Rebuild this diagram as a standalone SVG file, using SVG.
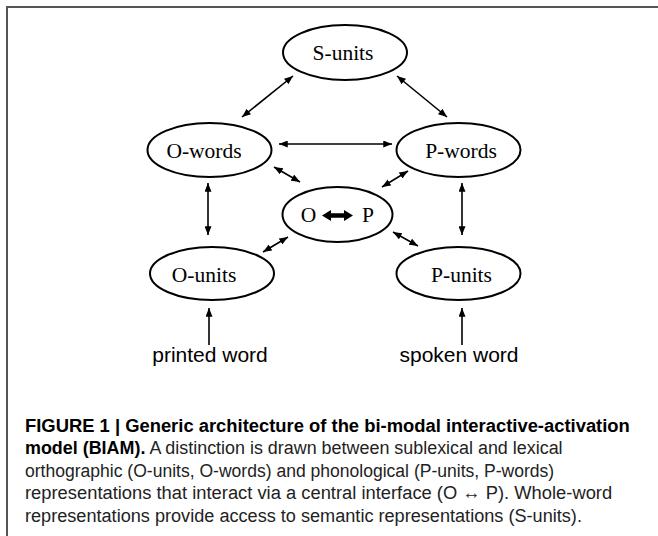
<svg xmlns="http://www.w3.org/2000/svg" width="658" height="536" viewBox="0 0 658 536">
<defs>
<style>
.node ellipse{fill:#fff;stroke:#000;stroke-width:2}
.lbl{font-family:"Liberation Serif","Times New Roman",serif;font-size:21.5px;fill:#000;text-anchor:middle}
.in{font-family:"Liberation Sans",Arial,sans-serif;font-size:21px;fill:#000;text-anchor:middle}
.conn line{stroke:#000;stroke-width:1.6;fill:none}
.cap{font-family:"Liberation Sans",Arial,sans-serif;font-size:19px;fill:#222}
.b{font-weight:bold;fill:#000}
</style>
<marker id="ah" viewBox="0 0 10 8" refX="10" refY="4" markerWidth="9" markerHeight="7" markerUnits="userSpaceOnUse" orient="auto-start-reverse">
<path d="M0,0 L10,4 L0,8 Z" fill="#000"/>
</marker>
</defs>
<rect width="658" height="536" fill="#fff"/>
<path d="M7,536 V7 H658" fill="none" stroke="#555" stroke-width="2"/>

<g class="conn">
<line x1="293" y1="76" x2="242" y2="117" marker-start="url(#ah)" marker-end="url(#ah)"/>
<line x1="397" y1="76" x2="447" y2="117" marker-start="url(#ah)" marker-end="url(#ah)"/>
<line x1="279" y1="144" x2="392" y2="144" marker-start="url(#ah)" marker-end="url(#ah)"/>
<line x1="274" y1="167" x2="300" y2="182" marker-start="url(#ah)" marker-end="url(#ah)"/>
<line x1="408" y1="171" x2="382" y2="187" marker-start="url(#ah)" marker-end="url(#ah)"/>
<line x1="208" y1="183" x2="208" y2="235" marker-start="url(#ah)" marker-end="url(#ah)"/>
<line x1="462" y1="183" x2="462" y2="235" marker-start="url(#ah)" marker-end="url(#ah)"/>
<line x1="263" y1="252" x2="288" y2="237" marker-start="url(#ah)" marker-end="url(#ah)"/>
<line x1="393" y1="232" x2="418" y2="246" marker-start="url(#ah)" marker-end="url(#ah)"/>
<line x1="209" y1="345" x2="209" y2="308" marker-end="url(#ah)"/>
<line x1="462" y1="345" x2="462" y2="308" marker-end="url(#ah)"/>
</g>

<g id="s-units" class="node">
<ellipse cx="345" cy="52.5" rx="62" ry="27.5"/>
<text class="lbl" x="343" y="60">S-units</text>
</g>
<g id="o-words" class="node">
<ellipse cx="209.5" cy="150" rx="62" ry="27"/>
<text class="lbl" x="204" y="158">O-words</text>
</g>
<g id="p-words" class="node">
<ellipse cx="458.5" cy="150" rx="62" ry="27"/>
<text class="lbl" x="461" y="158">P-words</text>
</g>
<g id="o-p" class="node">
<ellipse cx="337.5" cy="214.5" rx="55" ry="27.5"/>
<text class="lbl" x="308.5" y="222">O</text>
<text class="lbl" x="368" y="222">P</text>
<path d="M322,215.5 L331,210 L331,213.3 L344,213.3 L344,210 L353,215.5 L344,221 L344,217.7 L331,217.7 L331,221 Z" fill="#000"/>
</g>
<g id="o-units" class="node">
<ellipse cx="212" cy="273.5" rx="62" ry="26.5"/>
<text class="lbl" x="204" y="282">O-units</text>
</g>
<g id="p-units" class="node">
<ellipse cx="458.5" cy="273.5" rx="62" ry="26.5"/>
<text class="lbl" x="461.5" y="282">P-units</text>
</g>
<g id="printed-word">
<text class="in" x="210" y="362">printed word</text>
</g>
<g id="spoken-word">
<text class="in" x="459" y="362">spoken word</text>
</g>

<g id="caption" class="cap" transform="translate(25,0) scale(0.84,1)">
<text x="0" y="432" class="b" textLength="720" lengthAdjust="spacingAndGlyphs">FIGURE 1 | Generic architecture of the bi-modal interactive-activation</text>
<text x="0" y="454.5" textLength="640" lengthAdjust="spacingAndGlyphs"><tspan class="b">model (BIAM).</tspan> A distinction is drawn between sublexical and lexical</text>
<text x="0" y="477" textLength="630" lengthAdjust="spacingAndGlyphs">orthographic (O-units, O-words) and phonological (P-units, P-words)</text>
<text x="0" y="499.5" textLength="699" lengthAdjust="spacingAndGlyphs">representations that interact via a central interface (O ↔ P). Whole-word</text>
<text x="0" y="522" textLength="663" lengthAdjust="spacingAndGlyphs">representations provide access to semantic representations (S-units).</text>
</g>
</svg>
